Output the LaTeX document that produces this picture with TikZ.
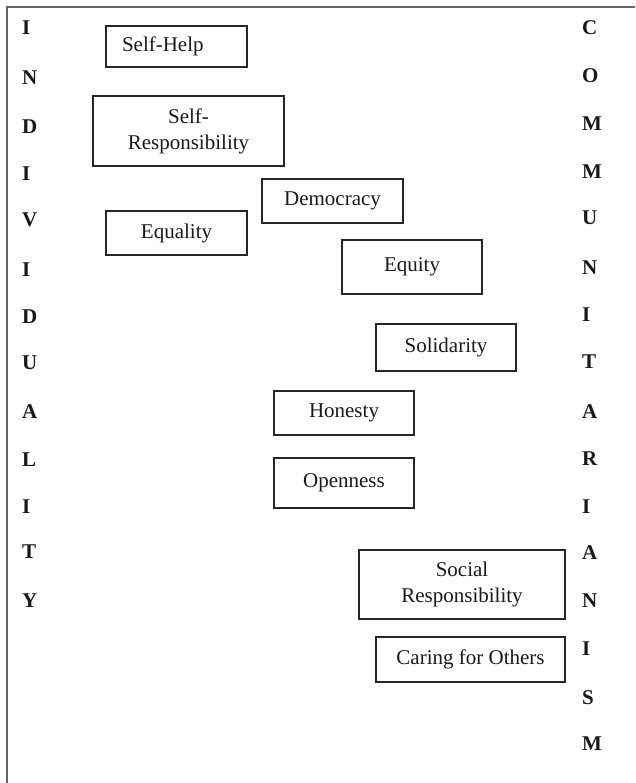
\documentclass[tikz,border=0pt]{standalone}
\usepackage{fontspec}
\setmainfont{Liberation Serif}
\begin{document}
\begin{tikzpicture}[x=1pt,y=-1pt,
  box/.style={draw=black!85, line width=1.2pt, inner sep=0pt, align=center,
    font=\fontsize{21}{26}\selectfont, text=black!90},
  letter/.style={font=\fontsize{21}{26}\selectfont\bfseries, inner sep=0pt,
    text=black!90, anchor=west},
  frame/.style={draw=black!60, line width=2pt}]
\useasboundingbox (0,0) rectangle (635,783);
\coordinate (ftop) at (635,7);
\coordinate (fcorner) at (7,7);
\coordinate (fbot) at (7,783);
\draw[frame] (ftop) -- (fcorner) -- (fbot);

% boxes
\node[box, minimum height=41pt, text width=109pt, align=left, inner xsep=16pt] (selfhelp) at (176.5,46.5) {Self-Help};
\node[box, minimum width=191pt, minimum height=70pt] (selfresp) at (188.5,131) {Self-\\Responsibility};
\node[box, minimum width=141pt, minimum height=44pt] (democracy) at (332.5,201) {Democracy};
\node[box, minimum width=141pt, minimum height=44pt] (equality) at (176.5,233) {Equality};
\node[box, minimum width=140pt, minimum height=54pt] (equity) at (412,267) {Equity};
\node[box, minimum width=140pt, minimum height=47pt] (solidarity) at (446,347.5) {Solidarity};
\node[box, minimum width=140pt, minimum height=44pt] (honesty) at (344,413) {Honesty};
\node[box, minimum width=140pt, minimum height=50pt] (openness) at (344,483) {Openness};
\node[box, minimum width=206pt, minimum height=69pt] (socresp) at (462,584.5) {Social\\Responsibility};
\node[box, minimum width=189pt, minimum height=45pt] (caring) at (470.5,659.5) {Caring for Others};

% left column
\foreach \ch/\yy [count=\i] in {I/28,N/78,D/127,I/174,V/220,I/270,D/317,U/363,A/412,L/460,I/507,T/552,Y/601}
  \node[letter] (left\i) at (22,\yy) {\ch};

% right column
\foreach \ch/\yy [count=\i] in {C/28,O/76,M/124,M/172,U/218,N/268,I/315,T/362,A/412,R/459,I/507,A/553,N/601,I/649,S/698,M/744}
  \node[letter] (right\i) at (582,\yy) {\ch};
\end{tikzpicture}
\end{document}
